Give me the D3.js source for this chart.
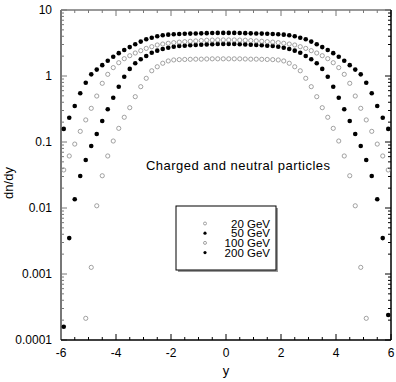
<!DOCTYPE html>
<html>
<head>
<meta charset="utf-8">
<script src="https://cdn.jsdelivr.net/npm/d3@7"></script>
<style>
  body { margin: 0; background: #fff; }
  svg { display: block; font-family: "Liberation Sans", Arial, sans-serif; }
</style>
</head>
<body>
<svg id="chart"></svg>
<script>
// rapidity bins, -5.9 .. 5.9
const rapidity = [-5.9, -5.7, -5.5, -5.3, -5.1, -4.9, -4.7, -4.5, -4.3, -4.1,
  -3.9, -3.7, -3.5, -3.3, -3.1, -2.9, -2.7, -2.5, -2.3, -2.1,
  -1.9, -1.7, -1.5, -1.3, -1.1, -0.9, -0.7, -0.5, -0.3, -0.1,
  0.1, 0.3, 0.5, 0.7, 0.9, 1.1, 1.3, 1.5, 1.7, 1.9,
  2.1, 2.3, 2.5, 2.7, 2.9, 3.1, 3.3, 3.5, 3.7, 3.9,
  4.1, 4.3, 4.5, 4.7, 4.9, 5.1, 5.3, 5.5, 5.7, 5.9];

const gev20 = [null, null, null, null, 0.000213, 0.00126, 0.0108, 0.0308, 0.0614, 0.1035,
  0.161, 0.237, 0.331, 0.486, 0.689, 0.923, 1.20, 1.38, 1.56, 1.69,
  1.75, 1.77, 1.78, 1.79, 1.80, 1.80, 1.81, 1.82, 1.82, 1.82,
  1.82, 1.82, 1.82, 1.81, 1.80, 1.80, 1.79, 1.78, 1.77, 1.75,
  1.69, 1.56, 1.38, 1.20, 0.923, 0.689, 0.486, 0.331, 0.237, 0.161,
  0.1035, 0.0614, 0.0308, 0.0108, 0.00126, 0.000213, null, null, null, null];

const gev50 = [0.000159, 0.0035, 0.0136, 0.0305, 0.0534, 0.0869, 0.132, 0.208, 0.313, 0.469,
  0.689, 0.975, 1.28, 1.56, 1.79, 2.01, 2.25, 2.42, 2.56, 2.68,
  2.78, 2.85, 2.88, 2.92, 2.95, 2.98, 3.01, 3.03, 3.05, 3.05,
  3.05, 3.05, 3.03, 3.01, 2.98, 2.95, 2.92, 2.88, 2.85, 2.78,
  2.68, 2.56, 2.42, 2.25, 2.01, 1.79, 1.56, 1.28, 0.975, 0.689,
  0.469, 0.313, 0.208, 0.132, 0.0869, 0.0534, 0.0305, 0.0136, 0.0035, 0.000239];

const gev100 = [0.0377, 0.0614, 0.093, 0.145, 0.216, 0.324, 0.497, 0.775, 1.06, 1.34,
  1.59, 1.83, 2.03, 2.23, 2.42, 2.62, 2.78, 2.95, 3.05, 3.13,
  3.20, 3.26, 3.31, 3.36, 3.40, 3.44, 3.48, 3.50, 3.52, 3.52,
  3.52, 3.52, 3.50, 3.48, 3.44, 3.40, 3.36, 3.31, 3.26, 3.20,
  3.13, 3.05, 2.95, 2.78, 2.62, 2.42, 2.23, 2.03, 1.83, 1.59,
  1.34, 1.06, 0.775, 0.497, 0.324, 0.216, 0.145, 0.093, 0.0614, 0.0377];

const gev200 = [0.158, 0.233, 0.351, 0.547, 0.79, 1.06, 1.25, 1.46, 1.70, 1.96,
  2.22, 2.48, 2.74, 3.02, 3.32, 3.60, 3.80, 4.00, 4.14, 4.23,
  4.29, 4.33, 4.37, 4.39, 4.41, 4.43, 4.46, 4.48, 4.50, 4.50,
  4.50, 4.50, 4.48, 4.46, 4.43, 4.41, 4.39, 4.37, 4.33, 4.29,
  4.23, 4.14, 4.00, 3.80, 3.60, 3.32, 3.02, 2.74, 2.48, 2.22,
  1.96, 1.70, 1.46, 1.25, 1.06, 0.79, 0.547, 0.351, 0.233, 0.158];

const seriesNames = ["20 GeV", "50 GeV", "100 GeV", "200 GeV"];
const seriesValues = [gev20, gev50, gev100, gev200];
const seriesFilled = [false, true, false, true];

const xTickLabels = [-6, -4, -2, 0, 2, 4, 6];
const yTickLabels = ["0.0001", "0.001", "0.01", "0.1", "1", "10"];

const width = 396, height = 382;
const plotL = 61, plotR = 391, plotT = 10, plotB = 340;

const svg = d3.select("#chart").attr("width", width).attr("height", height);

const x = d3.scaleLinear().domain([-6, 6]).range([plotL, plotR]);
const y = d3.scaleLog().domain([1e-4, 10]).range([plotB, plotT]);

/* ticks */
const minorX = d3.range(-6, 6.01, 0.5).filter(v => Math.abs(v % 2) > 0.01);
const minorY = [];
for (let e = -4; e < 1; e++) {
  for (let k = 2; k <= 9; k++) minorY.push(k * Math.pow(10, e));
}
const majorY = yTickLabels.map(Number);

const ticks = svg.append("g");
// bottom / top
xTickLabels.forEach(v => {
  ticks.append("line").attr("x1", x(v)).attr("x2", x(v)).attr("y1", plotB).attr("y2", plotB - 6).attr("stroke", "#000");
  ticks.append("line").attr("x1", x(v)).attr("x2", x(v)).attr("y1", plotT).attr("y2", plotT + 6).attr("stroke", "#777");
});
minorX.forEach(v => {
  ticks.append("line").attr("x1", x(v)).attr("x2", x(v)).attr("y1", plotB).attr("y2", plotB - 3).attr("stroke", "#000");
  ticks.append("line").attr("x1", x(v)).attr("x2", x(v)).attr("y1", plotT).attr("y2", plotT + 3).attr("stroke", "#777");
});
// left / right
majorY.forEach(v => {
  ticks.append("line").attr("x1", plotL).attr("x2", plotL + 6).attr("y1", y(v)).attr("y2", y(v)).attr("stroke", "#777");
  ticks.append("line").attr("x1", plotR).attr("x2", plotR - 6).attr("y1", y(v)).attr("y2", y(v)).attr("stroke", "#000");
});
minorY.forEach(v => {
  ticks.append("line").attr("x1", plotL).attr("x2", plotL + 3).attr("y1", y(v)).attr("y2", y(v)).attr("stroke", "#777");
  ticks.append("line").attr("x1", plotR).attr("x2", plotR - 3).attr("y1", y(v)).attr("y2", y(v)).attr("stroke", "#000");
});

/* frame */
svg.append("line").attr("x1", plotL).attr("x2", plotR).attr("y1", plotT).attr("y2", plotT).attr("stroke", "#777").attr("stroke-width", 1.5);
svg.append("line").attr("x1", plotL).attr("x2", plotL).attr("y1", plotT).attr("y2", plotB).attr("stroke", "#777").attr("stroke-width", 2);
svg.append("line").attr("x1", plotL).attr("x2", plotR).attr("y1", plotB).attr("y2", plotB).attr("stroke", "#000").attr("stroke-width", 1.5);
svg.append("line").attr("x1", plotR).attr("x2", plotR).attr("y1", plotT).attr("y2", plotB).attr("stroke", "#000").attr("stroke-width", 1.5);

/* tick labels */
svg.append("g").selectAll("text")
  .data(xTickLabels)
  .enter()
  .append("text")
  .attr("x", d => x(d))
  .attr("y", 357)
  .attr("text-anchor", "middle")
  .attr("font-size", "12px")
  .text(d => d);

svg.append("g").selectAll("text")
  .data(yTickLabels)
  .enter()
  .append("text")
  .attr("x", 52)
  .attr("y", d => y(+d) + 4)
  .attr("text-anchor", "end")
  .attr("font-size", "12px")
  .text(d => d);

/* axis titles */
svg.append("text")
  .attr("x", x(0))
  .attr("y", 375)
  .attr("text-anchor", "middle")
  .attr("font-size", "13px")
  .text("y");

svg.append("text")
  .attr("transform", "translate(13,183) rotate(-90)")
  .attr("text-anchor", "middle")
  .attr("font-size", "13px")
  .text("dn/dy");

svg.append("text")
  .attr("x", 146)
  .attr("y", 170)
  .attr("font-size", "13px")
  .attr("textLength", 184)
  .attr("lengthAdjust", "spacing")
  .text("Charged and neutral particles");

/* points */
function drawMarker(sel, filled, r) {
  if (filled) {
    sel.attr("r", r).attr("fill", "#000");
  } else {
    sel.attr("r", r).attr("fill", "none").attr("stroke", "#8a8a8a").attr("stroke-width", 0.8);
  }
}

seriesValues.forEach((vals, i) => {
  const pts = rapidity.map((r, j) => ({ r: r, v: vals[j] })).filter(d => d.v != null);
  svg.append("g").selectAll("circle")
    .data(pts)
    .enter()
    .append("circle")
    .attr("cx", d => x(d.r))
    .attr("cy", d => y(d.v))
    .call(drawMarker, seriesFilled[i], seriesFilled[i] ? 2.3 : 2.1);
});

/* legend */
const legend = svg.append("g");
legend.append("rect")
  .attr("x", 178).attr("y", 208).attr("width", 100).attr("height", 64)
  .attr("fill", "#999");
legend.append("rect")
  .attr("x", 176).attr("y", 206).attr("width", 100).attr("height", 64)
  .attr("fill", "#fff").attr("stroke", "#000").attr("stroke-width", 1);

seriesNames.forEach((name, i) => {
  const cy = 223.5 + i * 9.7;
  legend.append("circle")
    .attr("cx", 205).attr("cy", cy)
    .call(drawMarker, seriesFilled[i], seriesFilled[i] ? 1.6 : 1.5);
  legend.append("text")
    .attr("x", 270).attr("y", cy + 4)
    .attr("text-anchor", "end")
    .attr("font-size", "11.5px")
    .text(name);
});
</script>
</body>
</html>
